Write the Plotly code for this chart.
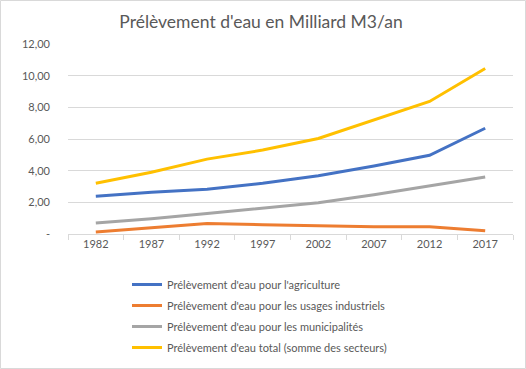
import plotly.graph_objects as go

years = ["1982", "1987", "1992", "1997", "2002", "2007", "2012", "2017"]
agriculture = [2.38, 2.63, 2.83, 3.2, 3.68, 4.3, 4.97, 6.68]
industriels = [0.13, 0.4, 0.66, 0.59, 0.52, 0.46, 0.46, 0.2]
municipalites = [0.7, 0.97, 1.3, 1.62, 1.97, 2.48, 3.03, 3.6]
total = [3.2, 3.9, 4.73, 5.3, 6.03, 7.2, 8.37, 10.45]

names = [
    "Prélèvement d'eau pour l'agriculture",
    "Prélèvement d'eau pour les usages industriels",
    "Prélèvement d'eau pour les municipalités",
    "Prélèvement d'eau total (somme des secteurs)",
]
colors = ["#4472C4", "#ED7D31", "#A5A5A5", "#FFC000"]
series = [agriculture, industriels, municipalites, total]

tick_vals = [0, 2, 4, 6, 8, 10, 12]
tick_text = ["-", "2,00", "4,00", "6,00", "8,00", "10,00", "12,00"]

fig = go.Figure()
for i, (n, c, s) in enumerate(zip(names, colors, series)):
    fig.add_trace(go.Scatter(x=years, y=s, name=n, mode="lines",
                             line=dict(color=c, width=3), legendgroup=str(i)))

W, H = 526, 369
ml, mr, mt, mb = 68, 13, 44, 135
pw, ph = W - ml - mr, H - mt - mb
def px(x): return (x - ml) / pw
def py(y): return (H - mb - y) / ph

fig.update_layout(
    width=W, height=H,
    margin=dict(l=ml, r=mr, t=mt, b=mb, autoexpand=False),
    paper_bgcolor="white", plot_bgcolor="white",
    font=dict(family="Lato", size=11, color="#595959"),
    title=dict(text="Prélèvement d'eau en Milliard M3/an", x=(261 - 0) / W, xanchor="center",
               xref="container", y=1 - 22 / H, yanchor="middle",
               font=dict(family="Lato", size=17.5, color="#595959")),
    xaxis=dict(type="category", range=[-0.5, 7.5], showgrid=False, showline=True,
               linecolor="#d9d9d9", linewidth=1, ticks="outside", tickson="boundaries",
               ticklen=5, tickcolor="#d9d9d9", tickfont=dict(size=11, color="#595959")),
    yaxis=dict(range=[0, 12], tickvals=tick_vals, ticktext=tick_text, showgrid=True,
               gridcolor="#d9d9d9", gridwidth=1, zeroline=False, showline=False,
               ticks="", tickfont=dict(size=11, color="#595959"), ticklabelstandoff=17),
    legend=dict(orientation="v", x=px(127), xanchor="left", y=py(270), yanchor="top",
                tracegroupgap=2, font=dict(size=11, color="#595959"),
                bgcolor="rgba(0,0,0,0)"),
    shapes=[dict(type="rect", xref="paper", yref="paper",
                 x0=px(0.5), x1=px(525.5), y0=py(368.5), y1=py(0.5),
                 line=dict(color="#d9d9d9", width=1), layer="below")],
)

fig.write_html("out.html", config={"displayModeBar": False},
               post_script="document.body.style.margin='0';")
